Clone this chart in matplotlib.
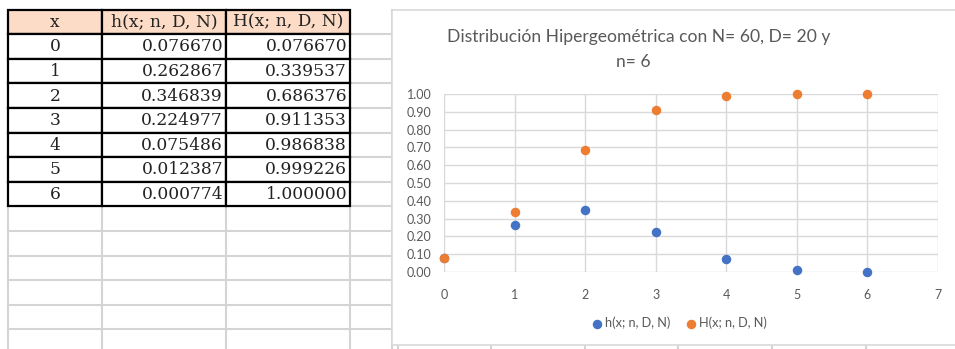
import matplotlib
matplotlib.use("Agg")
import matplotlib.pyplot as plt
from matplotlib.patches import Rectangle

# data
x = [0, 1, 2, 3, 4, 5, 6]
h = [0.076670, 0.262867, 0.346839, 0.224977, 0.075486, 0.012387, 0.000774]
H = [0.076670, 0.339537, 0.686376, 0.911353, 0.986838, 0.999226, 1.000000]
headers = ["x", "h(x; n, D, N)", "H(x; n, D, N)"]
title1 = "Distribución Hipergeométrica con N= 60, D= 20 y"
title2 = "n= 6"

W, Hpx = 955, 349
fig = plt.figure(figsize=(W / 100, Hpx / 100), dpi=100)

# background layer in pixel coordinates
bg = fig.add_axes([0, 0, 1, 1])
bg.set_xlim(0, W)
bg.set_ylim(Hpx, 0)
bg.axis("off")

grid_c = "#d4d4d4"
col_edges = [8, 102, 226, 350, 392]
row_h = 24.6
row_edges = [9.5 + row_h * i for i in range(15)]

# spreadsheet grey gridlines
for yy in row_edges[1:]:
    bg.plot([8, 392], [yy, yy], color=grid_c, lw=1.5, zorder=1)
for xx in col_edges:
    bg.plot([xx, xx], [row_edges[0], Hpx], color=grid_c, lw=1.5, zorder=1)
for xx in [398, 491, 585, 678, 772, 866]:
    bg.plot([xx, xx], [344, Hpx], color=grid_c, lw=1.5, zorder=1)

# table
serif = ["DejaVu Serif", "Liberation Serif"]
rows = [headers] + [[str(xi), "%.6f" % hi, "%.6f" % Hi] for xi, hi, Hi in zip(x, h, H)]
for r, row in enumerate(rows):
    y0, y1 = row_edges[r], row_edges[r + 1]
    for c, txt in enumerate(row):
        x0, x1 = col_edges[c], col_edges[c + 1]
        fc = "#fcdcc6" if r == 0 else "white"
        bg.add_patch(Rectangle((x0, y0), x1 - x0, y1 - y0, facecolor=fc,
                               edgecolor="black", lw=1.6, zorder=3))
        if c == 0 or r == 0:
            bg.text((x0 + x1) / 2, (y0 + y1) / 2 + 0.5, txt, ha="center", va="center",
                    family=serif, fontsize=12.3, color="#222222", zorder=4)
        else:
            bg.text(x1 - 3, (y0 + y1) / 2 + 0.5, txt, ha="right", va="center",
                    family=serif, fontsize=12.3, color="#222222", zorder=4)

# chart area
bg.add_patch(Rectangle((392, 9.5), W - 392 + 5, 335, facecolor="white",
                       edgecolor="#d9d9d9", lw=1.2, zorder=5))

txt_c = "#595959"
sans = "Lato"
fig.text(639 / W, 1 - 37 / Hpx, title1, ha="center", va="center",
         fontsize=12.6, color=txt_c, family=sans)
fig.text(633 / W, 1 - 62 / Hpx, title2, ha="center", va="center",
         fontsize=12.6, color=txt_c, family=sans)

ax = fig.add_axes([444 / W, 1 - 272 / Hpx, 494 / W, 178 / Hpx])
ax.set_zorder(6)
ax.patch.set_alpha(0)
ax.scatter(x, h, s=34, color="#4472c4", zorder=3, label="h(x; n, D, N)", clip_on=False)
ax.scatter(x, H, s=34, color="#ed7d31", zorder=3, label="H(x; n, D, N)", clip_on=False)
ax.set_xlim(0, 7)
ax.set_ylim(0, 1)
ax.set_xticks(range(8))
ax.set_yticks([i / 10 for i in range(11)])
ax.set_yticklabels(["%.2f" % (i / 10) for i in range(11)])
ax.grid(True, color="#d9d9d9", lw=1.0)
ax.set_axisbelow(True)
for s in ax.spines.values():
    s.set_visible(False)
ax.tick_params(length=0, labelsize=9, labelcolor=txt_c)
ax.tick_params(axis="y", pad=9)
ax.tick_params(axis="x", pad=12)
for lab in ax.get_xticklabels() + ax.get_yticklabels():
    lab.set_family(sans)

leg = fig.legend(loc="center", bbox_to_anchor=(680 / W, 1 - 323 / Hpx), ncol=2,
                 frameon=False, handlelength=0.6, handletextpad=0.3, columnspacing=1.3,
                 prop={"family": sans, "size": 9.2}, markerscale=1.0)
for t in leg.get_texts():
    t.set_color(txt_c)

fig.savefig("out.png", dpi=100)
